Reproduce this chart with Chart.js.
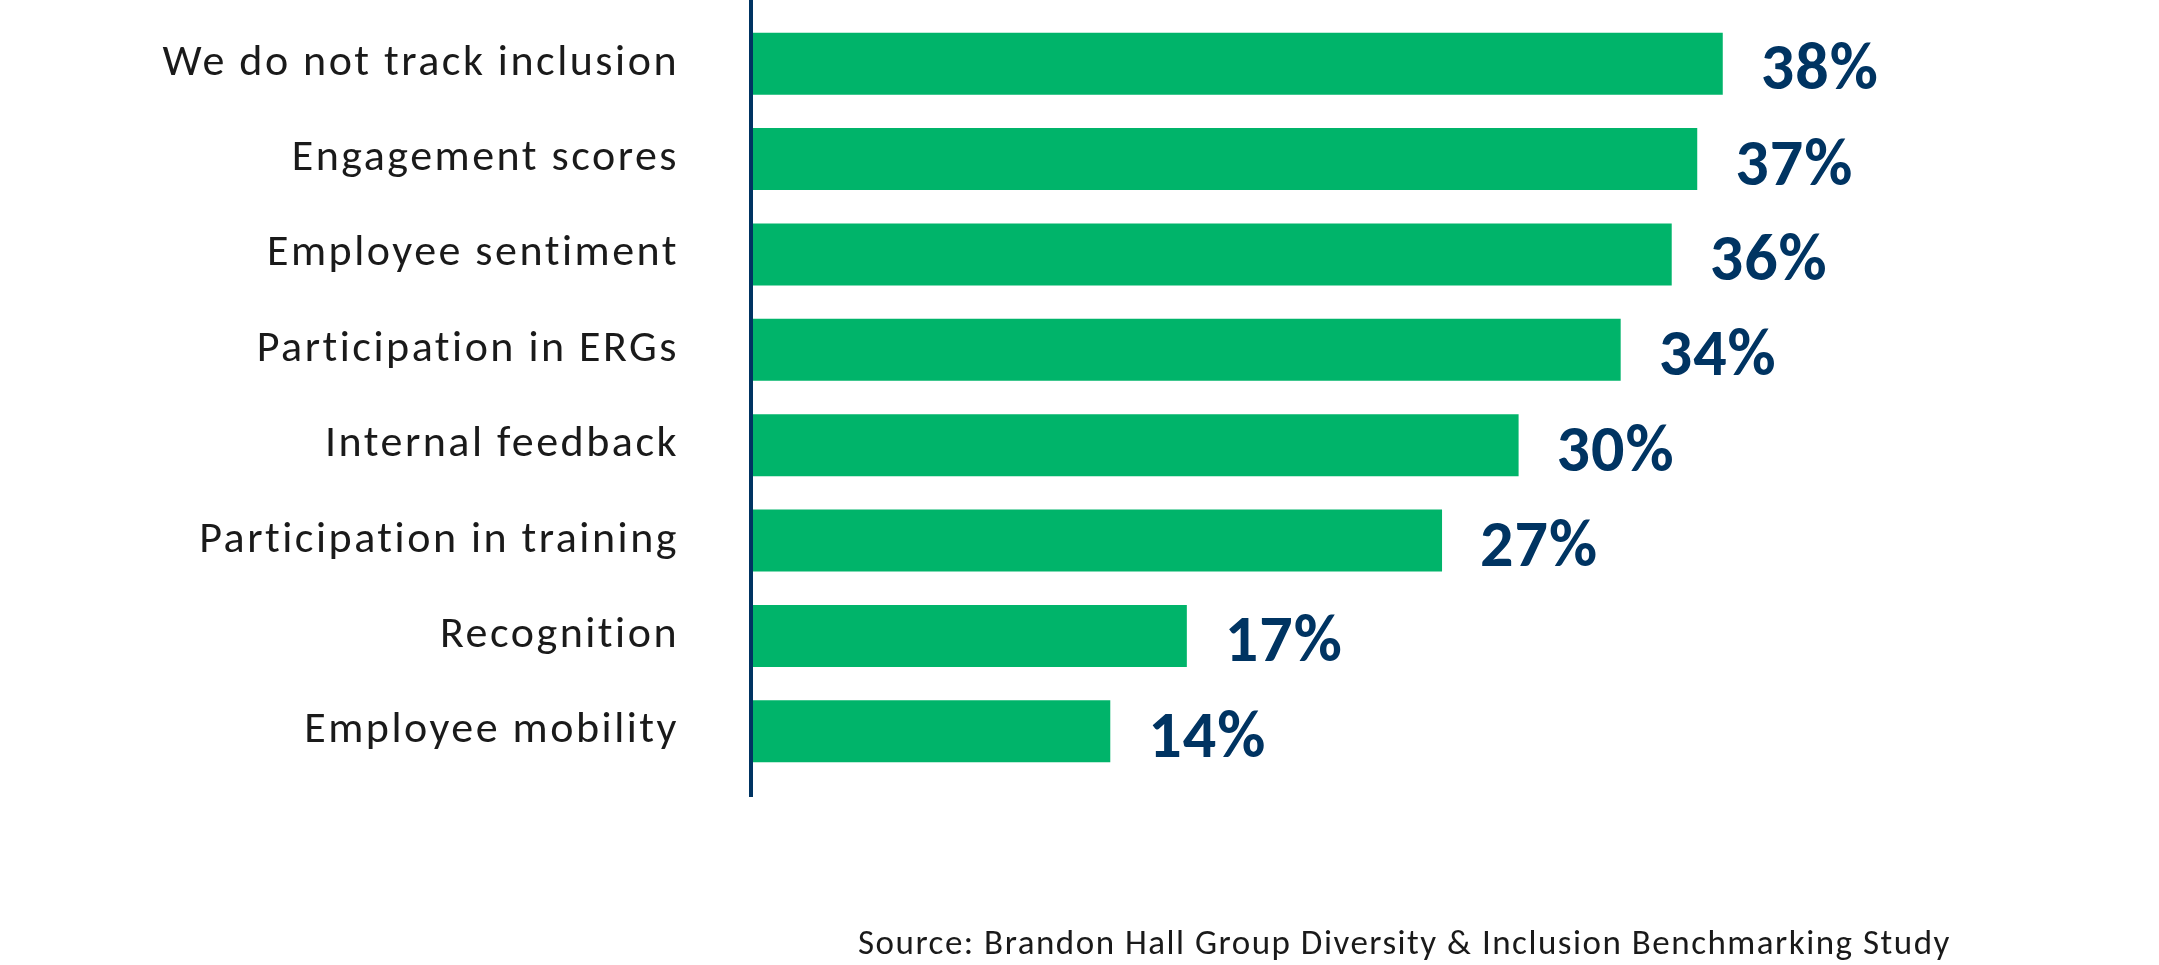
<!DOCTYPE html>
<html lang="en">
<head>
    <meta charset="UTF-8">
    <title>Inclusion tracking</title>
    <script src="https://cdn.jsdelivr.net/npm/chart.js"></script>
    <style>
        html, body {
            margin: 0;
            padding: 0;
            background: #ffffff;
        }
        #wrap {
            position: relative;
            width: 2159px;
            height: 965px;
        }
        #source {
            position: absolute;
            left: 858px;
            top: 925px;
            font-family: Carlito, 'Open Sans', sans-serif;
            font-size: 35px;
            line-height: 1;
            letter-spacing: 1.5px;
            color: #1a1a1a;
            white-space: nowrap;
        }
    </style>
</head>
<body>
<div id="wrap">
    <canvas id="myChart" width="2159" height="965"></canvas>
    <div id="source">Source: Brandon Hall Group Diversity &amp; Inclusion Benchmarking Study</div>
</div>

<script>
    // data
    const categories = [
        'We do not track inclusion',
        'Engagement scores',
        'Employee sentiment',
        'Participation in ERGs',
        'Internal feedback',
        'Participation in training',
        'Recognition',
        'Employee mobility'
    ];
    const percentValues = [38, 37, 36, 34, 30, 27, 17, 14];
    const valueLabels = ['38%', '37%', '36%', '34%', '30%', '27%', '17%', '14%'];

    const navy = '#003462';
    const green = '#00B46A';

    // the reference text is a bit wider than the font, so add some tracking
    const spacingPlugin = {
        id: 'spacing',
        beforeDraw(chart) {
            chart.ctx.letterSpacing = '2.5px';
        }
    };

    // value text at the end of each bar
    const barValuePlugin = {
        id: 'barValues',
        afterDatasetsDraw(chart) {
            const c = chart.ctx;
            const meta = chart.getDatasetMeta(0);
            c.save();
            c.letterSpacing = '1px';
            c.fillStyle = navy;
            c.font = 'bold 66px Carlito, "Open Sans", sans-serif';
            c.textAlign = 'left';
            c.textBaseline = 'middle';
            meta.data.forEach((bar, i) => {
                c.fillText(valueLabels[i], bar.x + 38, bar.y + 9);
            });
            c.restore();
        }
    };

    // vertical axis line, longer than the plot area
    const axisLinePlugin = {
        id: 'axisLine',
        afterDraw(chart) {
            const c = chart.ctx;
            const x0 = chart.scales.x.getPixelForValue(0) - 2;
            c.save();
            c.strokeStyle = navy;
            c.lineWidth = 4;
            c.beginPath();
            c.moveTo(x0, 0);
            c.lineTo(x0, 797);
            c.stroke();
            c.restore();
        }
    };

    const ctx = document.getElementById('myChart').getContext('2d');
    new Chart(ctx, {
        type: 'bar',
        data: {
            labels: categories,
            datasets: [{
                data: percentValues,
                backgroundColor: green,
                borderWidth: 0,
                categoryPercentage: 1.0,
                barPercentage: 0.65
            }]
        },
        options: {
            indexAxis: 'y',
            responsive: false,
            animation: false,
            layout: {
                autoPadding: false,
                padding: { left: 0, right: 130, top: 16, bottom: 186 }
            },
            plugins: {
                legend: { display: false },
                tooltip: { enabled: false }
            },
            scales: {
                x: {
                    display: false,
                    min: 0,
                    max: 50
                },
                y: {
                    afterFit(scale) {
                        scale.width = 753;
                        scale.paddingTop = 0;
                        scale.paddingBottom = 0;
                    },
                    grid: { display: false, drawTicks: false },
                    border: { display: false },
                    ticks: {
                        padding: 74,
                        color: '#1a1a1a',
                        font: { family: 'Carlito, "Open Sans", sans-serif', size: 44 }
                    }
                }
            }
        },
        plugins: [spacingPlugin, barValuePlugin, axisLinePlugin]
    });
</script>
</body>
</html>
